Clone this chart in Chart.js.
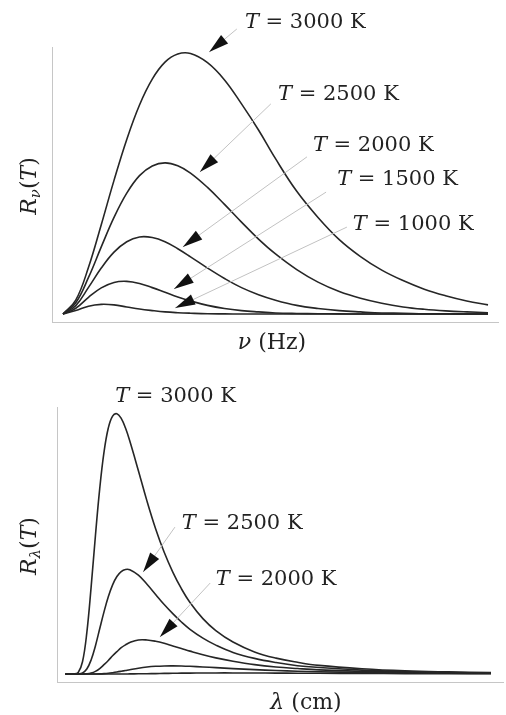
<!DOCTYPE html>
<html>
<head>
<meta charset="utf-8">
<script src="https://cdn.jsdelivr.net/npm/chart.js@4.4.1/dist/chart.umd.min.js"></script>
<style>
  body { margin: 0; background: #fff; }
  canvas { display: block; }
</style>
</head>
<body>
<canvas id="nuChart" width="506" height="357"></canvas>
<canvas id="lamChart" width="506" height="358"></canvas>
<script>
// frequency panel (arbitrary units)
const nuX = [0, 3, 6, 9, 12, 15, 18, 21, 24, 27, 30, 34, 38, 42, 46, 50, 55, 60, 65, 70, 75, 80, 85, 90, 95, 100];
const rNu3000 = [0, 5.3, 17.9, 34.2, 51.2, 66.9, 80.1, 90.0, 96.5, 99.6, 99.8, 96.3, 89.7, 80.5, 70.5, 59.5, 47.0, 37.0, 28.5, 22.0, 16.8, 12.8, 9.5, 7.0, 5.0, 3.5];
const rNu2500 = [0, 4.3, 14.0, 25.7, 37.0, 46.3, 53.0, 56.7, 57.9, 56.8, 54.0, 48.5, 42.0, 35.2, 28.7, 23.0, 17.0, 12.2, 8.6, 6.0, 4.1, 2.7, 1.8, 1.2, 0.8, 0.5];
const rNu2000 = [0, 3.2, 10.2, 17.6, 23.7, 27.7, 29.5, 29.3, 27.7, 25.0, 21.9, 17.6, 13.6, 10.1, 7.4, 5.3, 3.3, 2.1, 1.3, 0.8, 0.4, 0.3, 0.1, 0.1, 0, 0];
const rNu1500 = [0, 2.2, 6.4, 10.0, 12.1, 12.5, 11.7, 10.1, 8.3, 6.5, 5.0, 3.3, 2.1, 1.3, 0.8, 0.4, 0.2, 0.1, 0.05, 0, 0, 0, 0, 0, 0, 0];
const rNu1000 = [0, 1.3, 3.0, 3.7, 3.5, 2.7, 1.9, 1.3, 0.8, 0.5, 0.3, 0.1, 0.05, 0, 0, 0, 0, 0, 0, 0, 0, 0, 0, 0, 0, 0];

// wavelength panel
const lamX = [1, 3, 4, 5, 6, 7, 8, 9, 10, 11, 12, 13, 14, 15, 16, 18, 20, 22, 24, 26, 28, 30, 33, 36, 40, 45, 50, 55, 60, 70, 80, 90, 100];
const rLam3000 = [0, 0.01, 0.6, 4.7, 15.8, 33.3, 53.1, 71.2, 85.3, 94.6, 99.2, 100.1, 98.3, 94.6, 89.6, 78.2, 66.5, 55.9, 46.8, 39.2, 32.8, 27.5, 21.3, 16.7, 12.3, 8.5, 6.1, 4.5, 3.3, 2.0, 1.2, 0.8, 0.55];
const rLam2500 = [0, 0, 0.03, 0.4, 1.9, 5.4, 10.8, 17.4, 23.9, 29.7, 34.3, 37.5, 39.4, 40.2, 40.1, 38.0, 34.5, 30.6, 26.7, 23.2, 20.0, 17.2, 13.8, 11.1, 8.3, 6.0, 4.4, 3.2, 2.5, 1.5, 0.9, 0.6, 0.4];
const rLam2000 = [0, 0, 0, 0.01, 0.08, 0.36, 1.0, 2.1, 3.6, 5.2, 7.0, 8.6, 10.1, 11.2, 12.1, 13.1, 13.1, 12.6, 11.8, 10.8, 9.8, 8.8, 7.4, 6.2, 4.9, 3.6, 2.7, 2.1, 1.6, 1.0, 0.65, 0.44, 0.31];
const rLam1500 = [0, 0, 0, 0, 0, 0, 0.02, 0.06, 0.15, 0.29, 0.5, 0.75, 1.04, 1.35, 1.66, 2.23, 2.67, 2.95, 3.10, 3.13, 3.07, 2.95, 2.71, 2.44, 2.08, 1.67, 1.34, 1.07, 0.86, 0.57, 0.38, 0.27, 0.19];
const rLam1000 = [0, 0, 0, 0, 0, 0, 0, 0, 0, 0, 0, 0, 0.01, 0.02, 0.03, 0.07, 0.11, 0.16, 0.22, 0.27, 0.32, 0.35, 0.39, 0.41, 0.41, 0.39, 0.35, 0.31, 0.27, 0.21, 0.15, 0.11, 0.09];

const temps = ['3000', '2500', '2000', '1500', '1000'];

// label / arrow placement in data units
const nuNotes = [
    { temp: '3000', text: [42.8, 111.6], from: [40.9, 109.2], tip: [34.4, 100.4] },
    { temp: '2500', text: [50.6, 83.9], from: [48.9, 80.5], tip: [32.2, 54.4] },
    { temp: '2000', text: [58.8, 64.4], from: [57.4, 60.2], tip: [28.2, 25.7] },
    { temp: '1500', text: [64.5, 51.7], from: [61.9, 46.7], tip: [26.1, 9.6] },
    { temp: '1000', text: [68.2, 34.1], from: [66.8, 33.3], tip: [26.4, 2.3] }
];
const lamNotes = [
    { temp: '3000', text: [12.6, 106.9] },
    { temp: '2500', text: [28.1, 57.7], from: [26.5, 56.5], tip: [19.1, 39.2] },
    { temp: '2000', text: [36.0, 36.5], from: [34.7, 35.0], tip: [23.0, 14.2] }
];

const FONT = '"DejaVu Serif", "Liberation Serif", serif';

function partsWidth(ctx, parts, size) {
    let w = 0;
    parts.forEach(p => {
        ctx.font = (p.i ? 'italic ' : '') + (p.sub ? size * 0.68 : size) + 'px ' + FONT;
        w += ctx.measureText(p.t).width;
    });
    return w;
}

function drawParts(ctx, parts, x, y, size) {
    ctx.fillStyle = '#222';
    ctx.textBaseline = 'middle';
    ctx.textAlign = 'left';
    parts.forEach(p => {
        ctx.font = (p.i ? 'italic ' : '') + (p.sub ? size * 0.68 : size) + 'px ' + FONT;
        ctx.fillText(p.t, x, y + (p.sub ? size * 0.3 : 0));
        x += ctx.measureText(p.t).width;
    });
}

const notePlugin = {
    id: 'notes',
    afterDraw(chart, args, opts) {
        const ctx = chart.ctx;
        const xs = chart.scales.x, ys = chart.scales.y;
        const px = p => [xs.getPixelForValue(p[0]), ys.getPixelForValue(p[1])];
        ctx.save();
        opts.notes.forEach(n => {
            if (n.tip) {
                const a = px(n.from), b = px(n.tip);
                ctx.strokeStyle = '#c2c2c2';
                ctx.lineWidth = 1;
                ctx.beginPath();
                ctx.moveTo(a[0], a[1]);
                ctx.lineTo(b[0], b[1]);
                ctx.stroke();
                const ang = Math.atan2(b[1] - a[1], b[0] - a[0]);
                const c = Math.cos(ang), s = Math.sin(ang);
                ctx.fillStyle = '#111';
                ctx.beginPath();
                ctx.moveTo(b[0], b[1]);
                ctx.lineTo(b[0] - 20 * c + 5.5 * s, b[1] - 20 * s - 5.5 * c);
                ctx.lineTo(b[0] - 20 * c - 5.5 * s, b[1] - 20 * s + 5.5 * c);
                ctx.closePath();
                ctx.fill();
            }
            const t = px(n.text);
            drawParts(ctx, [{ t: 'T', i: true }, { t: ' = ' + n.temp + ' K' }], t[0], t[1], 21);
        });
        // axis titles
        const xw = partsWidth(ctx, opts.xTitle, 22);
        drawParts(ctx, opts.xTitle, opts.xTitleAt[0] - xw / 2, opts.xTitleAt[1], 22);
        ctx.translate(opts.yTitleAt[0], opts.yTitleAt[1]);
        ctx.rotate(-Math.PI / 2);
        const yw = partsWidth(ctx, opts.yTitle, 22);
        drawParts(ctx, opts.yTitle, -yw / 2, 0, 22);
        ctx.restore();
    }
};

function makeChart(id, xs, series, xRange, yRange, padding, notes, titles) {
    const ctx = document.getElementById(id).getContext('2d');
    return new Chart(ctx, {
        type: 'line',
        data: {
            datasets: series.map((ys, i) => ({
                label: 'T = ' + temps[i] + ' K',
                data: xs.map((x, j) => ({ x: x, y: ys[j] })),
                borderColor: '#262626',
                borderWidth: 1.6,
                pointRadius: 0,
                fill: false,
                tension: 0.4
            }))
        },
        options: {
            responsive: false,
            animation: false,
            layout: { padding: padding },
            plugins: {
                legend: { display: false },
                tooltip: { enabled: false },
                notes: Object.assign({ notes: notes }, titles)
            },
            scales: {
                x: {
                    type: 'linear', min: xRange[0], max: xRange[1],
                    grid: { display: false, drawTicks: false },
                    border: { display: true, color: '#c6c6c6', width: 1 },
                    ticks: { display: false }
                },
                y: {
                    min: yRange[0], max: yRange[1],
                    grid: { display: false, drawTicks: false },
                    border: { display: true, color: '#c6c6c6', width: 1 },
                    ticks: { display: false }
                }
            }
        },
        plugins: [notePlugin]
    });
}

makeChart('nuChart', nuX, [rNu3000, rNu2500, rNu2000, rNu1500, rNu1000],
    [-2.59, 102.35], [-3.07, 102.3],
    { left: 52, right: 8, top: 47, bottom: 35 },
    nuNotes,
    {
        xTitle: [{ t: 'ν', i: true }, { t: ' (Hz)' }], xTitleAt: [272, 343],
        yTitle: [{ t: 'R', i: true }, { t: 'ν', i: true, sub: true }, { t: '(' }, { t: 'T', i: true }, { t: ')' }], yTitleAt: [30, 186]
    });

makeChart('lamChart', lamX, [rLam3000, rLam2500, rLam2000, rLam1500, rLam1000],
    [-0.93, 102.79], [-3.08, 102.7],
    { left: 57, right: 3, top: 50, bottom: 33 },
    lamNotes,
    {
        xTitle: [{ t: 'λ', i: true }, { t: ' (cm)' }], xTitleAt: [306, 346],
        yTitle: [{ t: 'R', i: true }, { t: 'λ', i: true, sub: true }, { t: '(' }, { t: 'T', i: true }, { t: ')' }], yTitleAt: [30, 189]
    });
</script>
</body>
</html>
